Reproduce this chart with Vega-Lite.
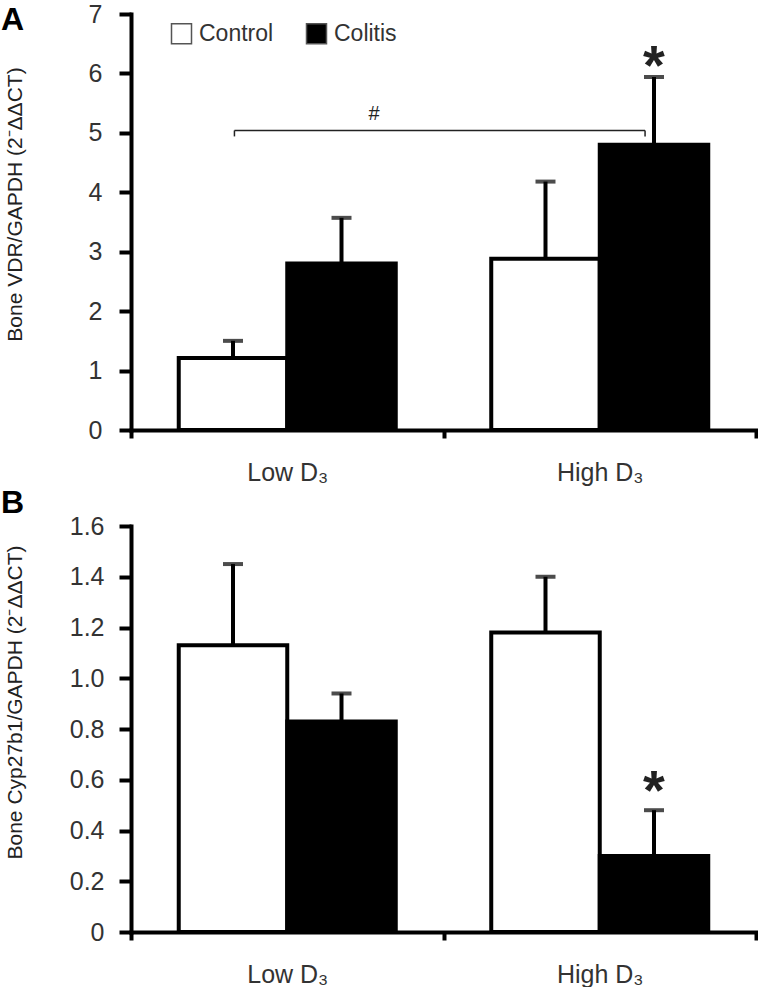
{
  "$schema": "https://vega.github.io/schema/vega-lite/v6.json",
  "padding": {"left": 0, "top": 2, "right": 0, "bottom": 0},
  "background": "white",
  "config": {
    "font": "Liberation Sans",
    "view": {"stroke": null},
    "axis": {
      "domainColor": "black", "domainWidth": 4, "domainCap": "square",
      "tickColor": "black", "tickWidth": 4,
      "labelFont": "Liberation Sans", "labelFontSize": 25, "labelColor": "#333",
      "titleFont": "Liberation Sans", "titleFontSize": 21, "titleFontWeight": "normal", "titleColor": "#222",
      "grid": false
    },
    "title": {"font": "Liberation Sans", "fontSize": 32, "fontWeight": "bold", "color": "black", "anchor": "start", "frame": "bounds"}
  },
  "datasets": {
    "a": [
      {"group": "Low D₃", "cond": "Control", "value": 1.21, "upper": 1.50},
      {"group": "Low D₃", "cond": "Colitis", "value": 2.80, "upper": 3.57},
      {"group": "High D₃", "cond": "Control", "value": 2.88, "upper": 4.18},
      {"group": "High D₃", "cond": "Colitis", "value": 4.80, "upper": 5.94}
    ],
    "a_star": [
      {"group": "High D₃", "cond": "Colitis", "pos": 6.56, "label": "*"}
    ],
    "a_bracket": [
      {"x": 0.331, "x2": 1.645, "y": 5.04, "y2": 5.04},
      {"x": 0.331, "x2": 0.331, "y": 4.94, "y2": 5.04},
      {"x": 1.645, "x2": 1.645, "y": 4.94, "y2": 5.04}
    ],
    "a_hash": [
      {"x": 0.778, "y": 5.22, "label": "#"}
    ],
    "b": [
      {"group": "Low D₃", "cond": "Control", "value": 1.13, "upper": 1.45},
      {"group": "Low D₃", "cond": "Colitis", "value": 0.83, "upper": 0.94},
      {"group": "High D₃", "cond": "Control", "value": 1.18, "upper": 1.40},
      {"group": "High D₃", "cond": "Colitis", "value": 0.30, "upper": 0.48}
    ],
    "b_star": [
      {"group": "High D₃", "cond": "Colitis", "pos": 0.66, "label": "*"}
    ]
  },
  "spacing": 2,
  "resolve": {"scale": {"fill": "independent"}, "legend": {"fill": "independent"}},
  "vconcat": [
    {
      "title": {"text": "A", "offset": -35, "dx": -3},
      "width": 625,
      "height": 416,
      "resolve": {"scale": {"x": "independent"}},
      "layer": [
        {
          "data": {"name": "a"},
          "encoding": {
            "x": {"field": "group", "type": "nominal", "sort": ["Low D₃", "High D₃"],
                  "scale": {"paddingInner": 0, "paddingOuter": 0},
                  "axis": {"title": null, "labelAngle": 0, "tickBand": "extent", "tickSize": 8, "labelPadding": 22}},
            "xOffset": {"field": "cond", "type": "nominal", "sort": ["Control", "Colitis"],
                        "scale": {"paddingInner": 0, "paddingOuter": 0.44}},
            "y": {"field": "value", "type": "quantitative", "scale": {"domain": [0, 7]},
                  "axis": {"values": [0, 1, 2, 3, 4, 5, 6, 7], "format": "d", "tickSize": 12, "labelPadding": 17,
                           "title": "Bone VDR/GAPDH (2⁻ΔΔCT)", "titleX": -106, "titleY": 190}}
          },
          "layer": [
            {
              "mark": {"type": "bar", "stroke": "black", "strokeWidth": 4},
              "encoding": {
                "fill": {"field": "cond", "type": "nominal", "sort": ["Control", "Colitis"],
                         "scale": {"range": ["white", "black"]},
                         "legend": {"orient": "none", "legendX": 39, "legendY": 8, "direction": "horizontal",
                                    "title": null, "symbolType": "square", "symbolSize": 400,
                                    "symbolStrokeColor": "#555", "symbolStrokeWidth": 1.5,
                                    "labelFont": "Liberation Sans", "labelFontSize": 23, "labelColor": "#333",
                                    "labelOffset": 6, "columnPadding": 29, "padding": 0}}
              }
            },
            {
              "mark": {"type": "rule", "strokeWidth": 4, "color": "black"},
              "encoding": {"y2": {"field": "upper"}}
            },
            {
              "mark": {"type": "tick", "thickness": 4, "size": 20, "color": "black"},
              "encoding": {"y": {"field": "upper", "type": "quantitative"}}
            },
            {
              "data": {"name": "a_star"},
              "mark": {"type": "text", "fontSize": 56, "fontWeight": "bold", "baseline": "top", "align": "center", "color": "#222"},
              "encoding": {"y": {"field": "pos", "type": "quantitative"}, "text": {"field": "label"}}
            }
          ]
        },
        {
          "layer": [
            {
              "data": {"name": "a_bracket"},
              "mark": {"type": "rule", "strokeWidth": 1.5, "color": "#222"},
              "encoding": {
                "x": {"field": "x", "type": "quantitative", "scale": {"domain": [0, 2], "nice": false, "zero": false}, "axis": null},
                "x2": {"field": "x2"},
                "y": {"field": "y", "type": "quantitative"},
                "y2": {"field": "y2"}
              }
            },
            {
              "data": {"name": "a_hash"},
              "mark": {"type": "text", "fontSize": 20, "align": "center", "baseline": "alphabetic", "color": "#222"},
              "encoding": {
                "x": {"field": "x", "type": "quantitative", "scale": {"domain": [0, 2], "nice": false, "zero": false}, "axis": null},
                "y": {"field": "y", "type": "quantitative"},
                "text": {"field": "label"}
              }
            }
          ]
        }
      ]
    },
    {
      "title": {"text": "B", "offset": -6, "dx": -3},
      "width": 625,
      "height": 406,
      "data": {"name": "b"},
      "encoding": {
        "x": {"field": "group", "type": "nominal", "sort": ["Low D₃", "High D₃"],
              "scale": {"paddingInner": 0, "paddingOuter": 0},
              "axis": {"title": null, "labelAngle": 0, "tickBand": "extent", "tickSize": 8, "labelPadding": 22}},
        "xOffset": {"field": "cond", "type": "nominal", "sort": ["Control", "Colitis"],
                    "scale": {"paddingInner": 0, "paddingOuter": 0.44}},
        "y": {"field": "value", "type": "quantitative", "scale": {"domain": [0, 1.6]},
              "axis": {"values": [0, 0.2, 0.4, 0.6, 0.8, 1.0, 1.2, 1.4, 1.6], "tickSize": 12, "labelPadding": 15,
                       "labelExpr": "datum.value === 0 ? '0' : format(datum.value, '.1f')",
                       "title": "Bone Cyp27b1/GAPDH (2⁻ΔΔCT)", "titleX": -106, "titleY": 176}}
      },
      "layer": [
        {
          "mark": {"type": "bar", "stroke": "black", "strokeWidth": 4},
          "encoding": {
            "fill": {"field": "cond", "type": "nominal", "sort": ["Control", "Colitis"],
                     "scale": {"range": ["white", "black"]}, "legend": null}
          }
        },
        {
          "mark": {"type": "rule", "strokeWidth": 4, "color": "black"},
          "encoding": {"y2": {"field": "upper"}}
        },
        {
          "mark": {"type": "tick", "thickness": 4, "size": 20, "color": "black"},
          "encoding": {"y": {"field": "upper", "type": "quantitative"}}
        },
        {
          "data": {"name": "b_star"},
          "mark": {"type": "text", "fontSize": 56, "fontWeight": "bold", "baseline": "top", "align": "center", "color": "#222"},
          "encoding": {"y": {"field": "pos", "type": "quantitative"}, "text": {"field": "label"}}
        }
      ]
    }
  ]
}
